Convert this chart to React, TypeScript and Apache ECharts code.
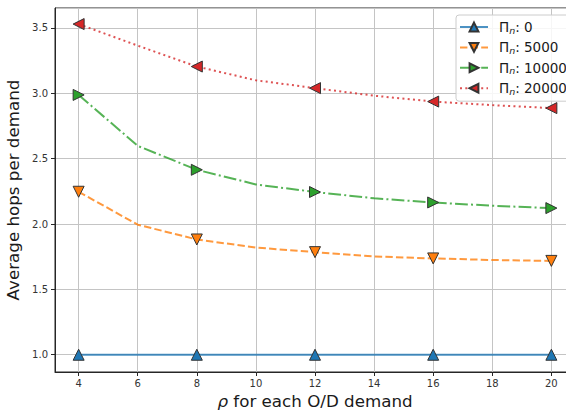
import React, { useEffect, useRef } from "react";
import * as echarts from "echarts";

const rhoValues = [4, 6, 8, 10, 12, 14, 16, 18, 20];
const seriesNames = ["0", "5000", "10000", "20000"];
const hops0 = [1.0, 1.0, 1.0, 1.0, 1.0, 1.0, 1.0, 1.0, 1.0];
const hops5000 = [2.247, 1.995, 1.882, 1.82, 1.785, 1.752, 1.737, 1.725, 1.718];
const hops10000 = [2.988, 2.598, 2.415, 2.303, 2.245, 2.197, 2.165, 2.14, 2.122];
const hops20000 = [3.53, 3.365, 3.205, 3.1, 3.04, 2.982, 2.937, 2.91, 2.887];
const xTitleSymbol = "ρ";
const xTitleRest = " for each O/D demand";
const yTitle = "Average hops per demand";

const colors = ["#1f77b4", "#ff7f0e", "#2ca02c", "#d62728"];
const dashes: any[] = ["solid", [7.4, 3.2], [12.8, 3.2, 2, 3.2], [2, 3.3]];
const rotations = [0, 180, -90, 90];
const allValues = [hops0, hops5000, hops10000, hops20000];

export default function App() {
  const ref = useRef<HTMLDivElement>(null);
  useEffect(() => {
    if (!ref.current) return;
    const chart = echarts.init(ref.current, null, { renderer: "svg" });
    const series = allValues.map((vals, si) => ({
      name: seriesNames[si],
      type: "line",
      symbol: "triangle",
      symbolSize: 11,
      symbolRotate: rotations[si],
      showSymbol: true,
      z: 2 + si,
      lineStyle: { color: colors[si], width: 2, type: dashes[si], opacity: 0.8 },
      itemStyle: { color: colors[si], borderColor: "#333", borderWidth: 1 },
      data: vals.map((v, i) =>
        i % 2 === 0 ? { value: [rhoValues[i], v] } : { value: [rhoValues[i], v], symbol: "none" }
      ),
    }));
    chart.setOption({
      animation: false,
      grid: {
        left: 55,
        top: 8,
        width: 520,
        height: 364,
        outerBoundsMode: "none",
        containLabel: false,
        show: true,
        borderColor: "#262626",
        borderWidth: 1,
        backgroundColor: "transparent",
      },
      legend: {
        left: 456,
        top: 15,
        orient: "vertical",
        padding: [5, 8, 5, 3],
        itemWidth: 28,
        itemHeight: 11,
        itemGap: 5.4,
        backgroundColor: "rgba(255,255,255,0.85)",
        borderColor: "#cccccc",
        borderWidth: 1,
        borderRadius: 3,
        data: seriesNames,
        formatter: (name: string) => `{p|Π}{n|n}{a|: ${name}}`,
        textStyle: {
          fontFamily: "DejaVu Sans",
          fontSize: 13.5,
          color: "#1a1a1a",
          rich: {
            p: { fontFamily: "DejaVu Sans", fontSize: 13.5, color: "#1a1a1a", lineHeight: 16, verticalAlign: "middle", padding: [0, 0, 0, 6] },
            a: { fontFamily: "DejaVu Sans", fontSize: 13.5, color: "#1a1a1a", lineHeight: 16, verticalAlign: "middle" },
            n: {
              fontFamily: "DejaVu Sans",
              fontSize: 9.5,
              fontStyle: "italic",
              color: "#1a1a1a",
              lineHeight: 16,
              verticalAlign: "bottom",
            },
          },
        },
      },
      xAxis: {
        type: "value",
        min: 3.2,
        max: 20.8,
        minInterval: 2,
        maxInterval: 2,
        name: `{i|${xTitleSymbol}}{t|${xTitleRest}}`,
        nameLocation: "middle",
        nameGap: 15,
        nameTextStyle: {
          fontFamily: "DejaVu Sans",
          fontSize: 16.7,
          color: "#1a1a1a",
          verticalAlign: "top",
          rich: {
            i: { fontFamily: "DejaVu Sans", fontSize: 16.7, fontStyle: "italic", color: "#1a1a1a" },
            t: { fontFamily: "DejaVu Sans", fontSize: 16.7, color: "#1a1a1a" },
          },
        },
        axisLine: { show: true, lineStyle: { color: "#262626", width: 1 } },
        axisTick: { show: true, length: 4, lineStyle: { color: "#262626" } },
        axisLabel: {
          showMinLabel: false,
          showMaxLabel: false,
          margin: 6,
          fontFamily: "DejaVu Sans",
          fontSize: 10,
          color: "#333",
        },
        splitLine: { show: true, lineStyle: { color: "#c4c4c4", width: 1 } },
      },
      yAxis: {
        type: "value",
        min: 0.868,
        max: 3.653,
        minInterval: 0.5,
        maxInterval: 0.5,
        name: yTitle,
        nameLocation: "middle",
        nameGap: 28,
        nameTextStyle: { fontFamily: "DejaVu Sans", fontSize: 16.7, color: "#1a1a1a" },
        axisLine: { show: true, lineStyle: { color: "#262626", width: 1 } },
        axisTick: { show: true, length: 4, lineStyle: { color: "#262626" } },
        axisLabel: {
          showMinLabel: false,
          showMaxLabel: false,
          margin: 7,
          fontFamily: "DejaVu Sans",
          fontSize: 10,
          color: "#333",
          formatter: (v: number) => v.toFixed(1),
        },
        splitLine: { show: true, lineStyle: { color: "#c4c4c4", width: 1 } },
      },
      series,
    });
    return () => chart.dispose();
  }, []);
  return <div ref={ref} style={{ width: 566, height: 410, position: "absolute", left: 0, top: 0 }} />;
}
